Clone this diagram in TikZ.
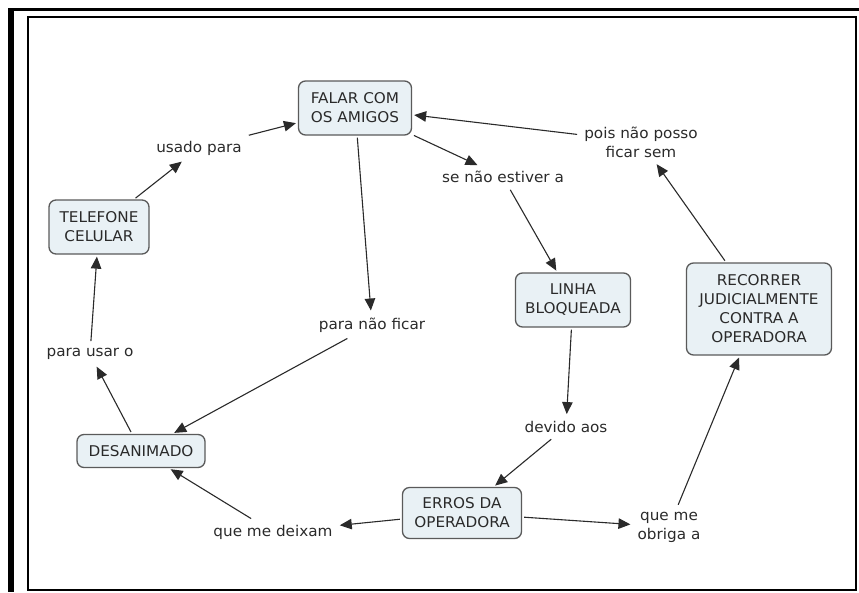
\documentclass[tikz,border=0pt]{standalone}
\usepackage{fontspec}
\setmainfont[FakeStretch=1.03]{DejaVu Sans}
\usetikzlibrary{arrows.meta}
\definecolor{txt}{HTML}{2A2A2A}
\definecolor{cfill}{HTML}{E9F1F5}
\definecolor{cdraw}{HTML}{5A5A5A}
\tikzset{
  concept/.style={draw=cdraw, fill=cfill, line width=1.3pt, rounded corners=7pt,
    align=center, inner sep=0pt, text=txt, font=\fontsize{14.8}{19}\selectfont},
  linkword/.style={align=center, inner sep=5pt, text=txt, font=\fontsize{14.8}{19}\selectfont},
  link/.style={draw=txt, line width=1.1pt, -{Triangle[length=12pt,width=10.5pt]}, shorten >=2pt, shorten <=2pt},
}
\begin{document}
\begin{tikzpicture}[x=1pt,y=-1pt]
\useasboundingbox (0,0) rectangle (859,592);
% frame
\fill[black] (8,8) rectangle (14,592);
\fill[black] (8,8) rectangle (859,11);
\draw[black, line width=2pt] (28,17) rectangle (856,590);
% concepts
\node[concept, minimum width=113pt, minimum height=54pt] (falar) at (355,108) {FALAR COM\\OS AMIGOS};
\node[concept, minimum width=100pt, minimum height=54pt] (tel) at (99,227) {TELEFONE\\CELULAR};
\node[concept, minimum width=128pt, minimum height=33pt] (desan) at (141,451) {DESANIMADO};
\node[concept, minimum width=119pt, minimum height=51pt] (erros) at (462,513) {ERROS DA\\OPERADORA};
\node[concept, minimum width=145pt, minimum height=92pt] (recorrer) at (759,309) {RECORRER\\JUDICIALMENTE\\CONTRA A\\OPERADORA};
\node[concept, minimum width=115pt, minimum height=54pt] (linha) at (573,300) {LINHA\\BLOQUEADA};
% linking words
\node[linkword] (usado) at (199,148) {usado para};
\node[linkword] (parausar) at (90,354) {para usar o};
\node[linkword] (paranao) at (372,325) {para não ficar};
\node[linkword] (deixam) at (273,532) {que me deixam};
\node[linkword] (obriga) at (669,527) {que me\\obriga a};
\node[linkword] (pois) at (641,142) {pois não posso\\ficar sem};
\node[linkword] (senao) at (503,177) {se não estiver a};
\node[linkword] (devido) at (566,427) {devido aos};
% connectors
\draw[link] (tel) -- (usado);
\draw[link] (usado) -- (falar);
\draw[link] (desan) -- (parausar);
\draw[link] (parausar) -- (tel);
\draw[link] (falar) -- (paranao);
\draw[link] (paranao) -- (desan);
\draw[link] (erros) -- (deixam);
\draw[link] (deixam) -- (desan);
\draw[link] (erros) -- (obriga);
\draw[link] (obriga) -- (recorrer);
\draw[link] (recorrer) -- (pois);
\draw[link] (pois) -- (falar);
\draw[link] (falar) -- (senao);
\draw[link] (senao) -- (linha);
\draw[link] (linha) -- (devido);
\draw[link] (devido) -- (erros);
\end{tikzpicture}
\end{document}
